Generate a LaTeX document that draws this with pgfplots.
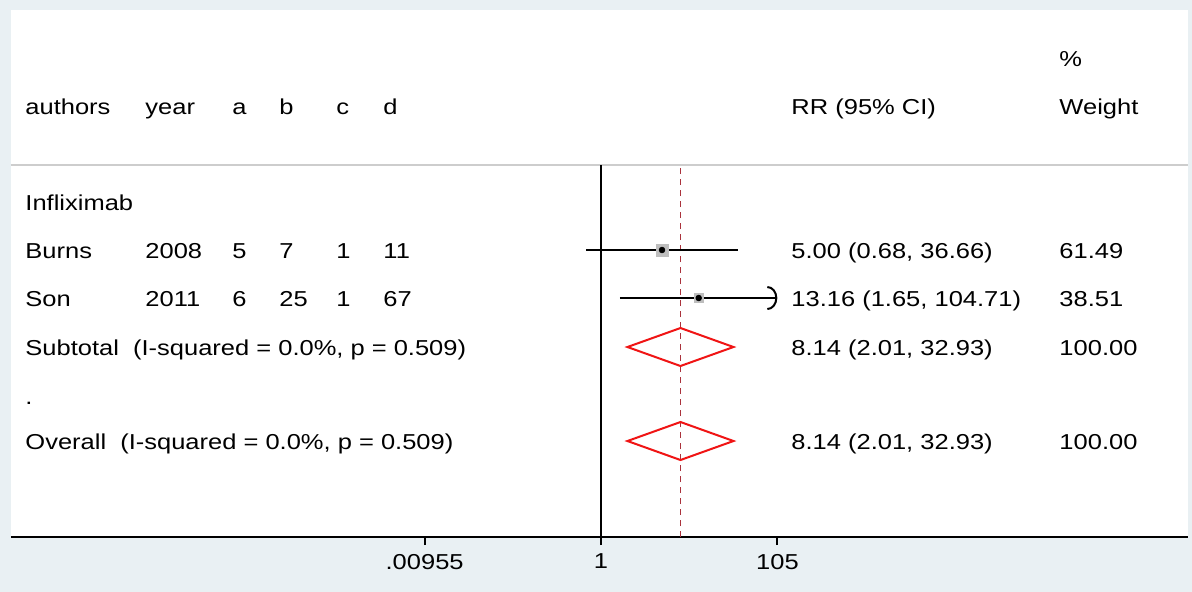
\documentclass[border=0pt]{standalone}
\usepackage{fontspec}
\setmainfont{Liberation Sans}
\usepackage{pgfplots}
\pgfplotsset{compat=1.18}
\usetikzlibrary{arrows.meta}
\definecolor{bg}{RGB}{233,240,243}
\definecolor{sepg}{RGB}{205,205,205}
\definecolor{boxg}{RGB}{190,190,190}
\definecolor{nullred}{RGB}{170,50,60}
\definecolor{diared}{RGB}{240,20,20}
\newcommand{\tf}{\fontsize{10.8bp}{13bp}\selectfont}
\newcommand{\T}[3]{\node[anchor=base west, inner sep=0, xscale=1.18, font=\tf] at (#1,#2) {#3};}
\begin{document}
\begin{tikzpicture}
\begin{scope}[x=0.5bp,y=-0.5bp]
\fill[bg] (0,0) rectangle (1192,592);
\end{scope}
\begin{axis}[
  at={(5.5bp,-268.5bp)}, anchor=south west,
  scale only axis, width=588.5bp, height=263.5bp,
  xmode=log, xmin=1.746e-7, xmax=5.30e6, ymin=0, ymax=527,
  axis background/.style={fill=white},
  axis x line*=bottom, axis y line=none,
  x axis line style={line width=1bp, black},
  xtick={0.00955,1,105}, xticklabels={.00955,1,105},
  xminorticks=false,
  tick align=outside, major tick length=4bp,
  xtick style={line width=1bp, black},
  xticklabel style={font=\tf, xscale=1.18, yshift=-1bp},
  clip=false,
]
% separator and reference lines
\addplot[sepg, line width=1bp] coordinates {(1.746e-7,372) (5.30e6,372)};
\addplot[black, line width=1bp] coordinates {(1,0) (1,372)};
\addplot[nullred, line width=0.9bp, dash pattern=on 3bp off 2.5bp] coordinates {(8.14,0) (8.14,372)};
% Burns
\addplot[black, line width=1bp] coordinates {(0.68,287) (36.66,287)};
\addplot[only marks, mark=square*, mark size=3bp, mark options={fill=boxg, draw=boxg}] coordinates {(5.00,287)};
\addplot[only marks, mark=*, mark size=1.4bp, mark options={fill=black, draw=black}] coordinates {(5.00,287)};
% Son
\addplot[black, line width=1bp, -{Arc Barb[length=5bp, width=12bp, line width=1bp]}] coordinates {(1.65,239) (104.71,239)};
\addplot[only marks, mark=square*, mark size=2.3bp, mark options={fill=boxg, draw=boxg}] coordinates {(13.16,239)};
\addplot[only marks, mark=*, mark size=1.4bp, mark options={fill=black, draw=black}] coordinates {(13.16,239)};
% Subtotal diamond
\addplot[diared, line width=1bp, line join=miter] coordinates {(2.01,190) (8.14,209) (32.93,190) (8.14,171)} -- cycle;
% Overall diamond
\addplot[diared, line width=1bp, line join=miter] coordinates {(2.01,96) (8.14,115) (32.93,96) (8.14,77)} -- cycle;
\end{axis}
\begin{scope}[x=0.5bp,y=-0.5bp]
\T{1059}{67}{\%}
\T{25}{115}{authors}
\T{145}{115}{year}
\T{232}{115}{a}
\T{279}{115}{b}
\T{336}{115}{c}
\T{383}{115}{d}
\T{791}{115}{RR (95\% CI)}
\T{1059}{115}{Weight}
\T{25}{210}{Infliximab}
\T{25}{258}{Burns}
\T{145}{258}{2008}
\T{232}{258}{5}
\T{279}{258}{7}
\T{336}{258}{1}
\T{383}{258}{11}
\T{791}{258}{5.00 (0.68, 36.66)}
\T{1059}{258}{61.49}
\T{25}{306}{Son}
\T{145}{306}{2011}
\T{232}{306}{6}
\T{279}{306}{25}
\T{336}{306}{1}
\T{383}{306}{67}
\T{791}{306}{13.16 (1.65, 104.71)}
\T{1059}{306}{38.51}
\T{25}{355}{Subtotal\ \ (I-squared = 0.0\%, p = 0.509)}
\T{791}{355}{8.14 (2.01, 32.93)}
\T{1059}{355}{100.00}
\T{25}{404}{.}
\T{25}{449}{Overall\ \ (I-squared = 0.0\%, p = 0.509)}
\T{791}{449}{8.14 (2.01, 32.93)}
\T{1059}{449}{100.00}
\end{scope}
\end{tikzpicture}
\end{document}
